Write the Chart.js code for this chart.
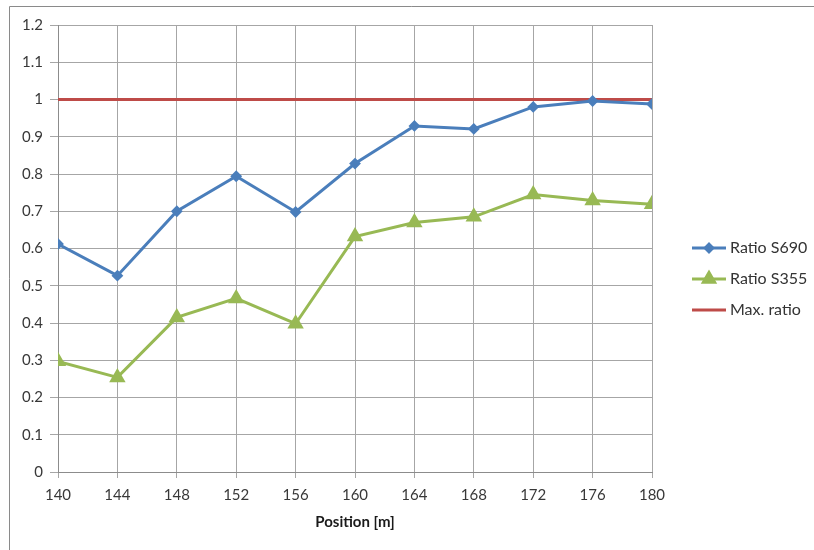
<!DOCTYPE html>
<html>
<head>
<meta charset="utf-8">
<script src="https://cdn.jsdelivr.net/npm/chart.js@4/dist/chart.umd.min.js"></script>
<style>
  html, body { margin: 0; padding: 0; background: #ffffff; }
  #wrap { width: 814px; height: 550px; position: relative; }
</style>
</head>
<body>
<div id="wrap"><canvas id="c" width="814" height="550"></canvas></div>
<script>
const positions = [140, 144, 148, 152, 156, 160, 164, 168, 172, 176, 180];
const ratioS690 = [0.612, 0.527, 0.700, 0.794, 0.698, 0.828, 0.929, 0.921, 0.980, 0.996, 0.988];
const ratioS355 = [0.297, 0.254, 0.415, 0.466, 0.398, 0.632, 0.670, 0.685, 0.745, 0.729, 0.719];
const maxRatio  = [1, 1, 1, 1, 1, 1, 1, 1, 1, 1, 1];
const seriesNames = ['Ratio S690', 'Ratio S355', 'Max. ratio'];
const xTitle = 'Position [m]';

const FONT = 'Lato, "Open Sans", sans-serif';
const toPts = (vals) => positions.map((x, i) => ({ x: x, y: vals[i] }));

const framePlugin = {
  id: 'frame',
  beforeDraw(chart) {
    const ctx = chart.ctx;
    ctx.save();
    ctx.fillStyle = '#ffffff';
    ctx.fillRect(0, 0, chart.width, chart.height);
    ctx.strokeStyle = '#8a8a8a';
    ctx.lineWidth = 1;
    ctx.beginPath();
    ctx.moveTo(9.5, chart.height);
    ctx.lineTo(9.5, 6.5);
    ctx.lineTo(chart.width, 6.5);
    ctx.stroke();
    ctx.restore();
  }
};

const legendPlugin = {
  id: 'customLegend',
  afterDraw(chart) {
    const ctx = chart.ctx;
    const ys = [248, 279, 310];
    ctx.save();
    chart.data.datasets.forEach((ds, i) => {
      const y = ys[i];
      ctx.strokeStyle = ds.borderColor;
      ctx.lineWidth = 3;
      ctx.beginPath();
      ctx.moveTo(692, y);
      ctx.lineTo(726, y);
      ctx.stroke();
      if (ds.pointStyle && ds.pointRadius > 0) {
        ctx.fillStyle = ds.pointBackgroundColor;
        ctx.strokeStyle = ds.pointBorderColor;
        Chart.helpers.drawPoint(ctx, {
          pointStyle: ds.pointStyle,
          radius: ds.pointRadius,
          rotation: 0,
          borderWidth: 1
        }, 709, y);
      }
      ctx.fillStyle = '#333333';
      ctx.font = '16px ' + FONT;
      ctx.textBaseline = 'middle';
      ctx.textAlign = 'left';
      ctx.fillText(ds.label, 730, y);
    });
    ctx.restore();
  }
};

new Chart(document.getElementById('c'), {
  type: 'line',
  data: {
    datasets: [
      {
        label: seriesNames[0],
        data: toPts(ratioS690),
        borderColor: '#4A7EBB',
        backgroundColor: '#4A7EBB',
        pointBackgroundColor: '#4A7EBB',
        pointBorderColor: '#4A7EBB',
        borderWidth: 3,
        pointStyle: 'rectRot',
        pointRadius: 3.8,
        tension: 0
      },
      {
        label: seriesNames[1],
        data: toPts(ratioS355),
        borderColor: '#98B954',
        backgroundColor: '#98B954',
        pointBackgroundColor: '#98B954',
        pointBorderColor: '#98B954',
        borderWidth: 3,
        pointStyle: 'triangle',
        pointRadius: 6.5,
        tension: 0
      },
      {
        label: seriesNames[2],
        data: toPts(maxRatio),
        borderColor: '#BE4B48',
        backgroundColor: '#BE4B48',
        pointBackgroundColor: '#BE4B48',
        pointBorderColor: '#BE4B48',
        borderWidth: 3,
        pointStyle: false,
        pointRadius: 0,
        tension: 0
      }
    ]
  },
  options: {
    responsive: false,
    animation: false,
    events: [],
    layout: { padding: { left: 0, right: 162, top: 25, bottom: 0 } },
    plugins: {
      legend: { display: false },
      tooltip: { enabled: false },
      title: { display: false }
    },
    scales: {
      x: {
        type: 'linear',
        min: 140,
        max: 180,
        afterFit(scale) { scale.height = 78; },
        afterBuildTicks(scale) { scale.ticks = positions.map(v => ({ value: v })); },
        grid: { color: '#a6a6a6', lineWidth: 1, tickLength: 6, drawTicks: true },
        border: { color: '#8c8c8c', width: 1 },
        ticks: {
          color: '#383838',
          font: { family: FONT, size: 15 },
          padding: 8,
          maxRotation: 0,
          autoSkip: false
        },
        title: {
          display: true,
          text: xTitle,
          color: '#1a1a1a',
          font: { family: FONT, size: 15, weight: 'bold' },
          padding: { top: 0, bottom: 19 }
        }
      },
      y: {
        type: 'linear',
        min: 0,
        max: 1.2,
        afterFit(scale) { scale.width = 58; },
        ticks: {
          stepSize: 0.1,
          color: '#383838',
          font: { family: FONT, size: 15 },
          padding: 7,
          callback: (v) => String(Math.round(v * 10) / 10)
        },
        grid: { color: '#a6a6a6', lineWidth: 1, tickLength: 8, drawTicks: true },
        border: { color: '#8c8c8c', width: 1 }
      }
    }
  },
  plugins: [framePlugin, legendPlugin]
});
</script>
</body>
</html>
